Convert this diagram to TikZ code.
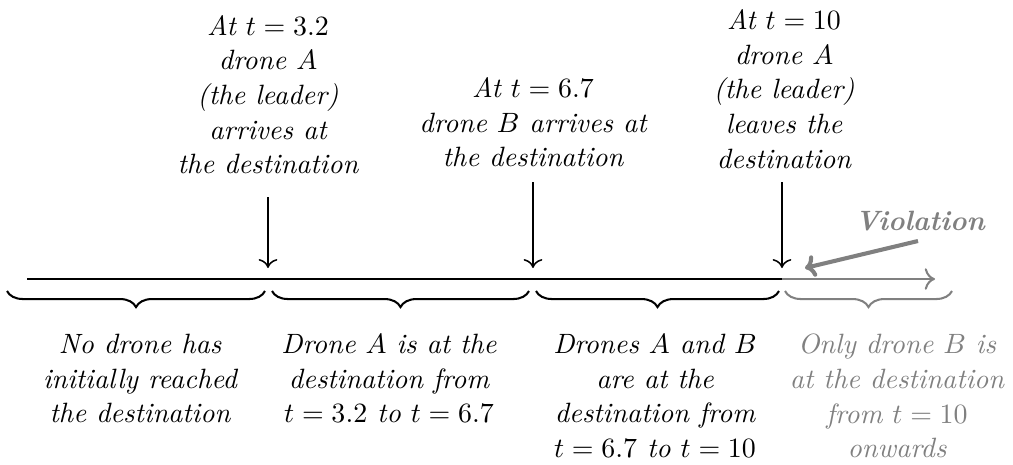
\documentclass[tikz,border=0pt]{standalone}
\usetikzlibrary{decorations.pathreplacing,arrows.meta}
\begin{document}
\begin{tikzpicture}[x=0.392pt,y=-0.392pt,
  lbl/.style={font=\fontsize{10.95pt}{13.6pt}\selectfont\itshape, align=center, inner sep=0pt, anchor=north},
  faded/.style={text=gray},
  brc/.style={decorate, decoration={brace,mirror,amplitude=6.3pt}, thick},
  tick/.style={semithick, -{To[scale=1.2]}},
  axis/.style={thick},
  viol/.style={font=\fontsize{10.95pt}{13.6pt}\selectfont\bfseries\itshape, text=gray, inner sep=0pt}
]
\useasboundingbox (0,0) rectangle (1013,464);

% top labels
\node[lbl] (n1) at (268,14.5) {At $t = 3.2$\\ drone $A$\\ (the leader)\\ arrives at\\ the destination};
\node[lbl] (n2) at (533,77) {At $t = 6.7$\\ drone $B$ arrives at\\ the destination};
\node[lbl] (n3) at (784,9) {At $t = 10$\\ drone $A$\\ (the leader)\\ leaves the\\ destination};

% timeline points
\coordinate (t0) at (27,279);
\coordinate (t3) at (782,279);
\coordinate (tend) at (935,279);

\coordinate (s1) at (268,197);
\coordinate (e1) at (268,268);
\coordinate (s2) at (533,182);
\coordinate (e2) at (533,268);
\coordinate (s3) at (782,182);
\coordinate (e3) at (782,268);

\draw[axis] (t0) -- (t3);
\draw[axis,gray,-{To[scale=1.2]}] (t3) -- (tend);

\draw[tick] (s1) -- (e1);
\draw[tick] (s2) -- (e2);
\draw[tick] (s3) -- (e3);

% braces
\coordinate (b1a) at (7,291);   \coordinate (b1b) at (265,291);
\coordinate (b2a) at (272,291); \coordinate (b2b) at (529,291);
\coordinate (b3a) at (536,291); \coordinate (b3b) at (779,291);
\coordinate (b4a) at (785,291); \coordinate (b4b) at (952,291);
\draw[brc] (b1a) -- (b1b);
\draw[brc] (b2a) -- (b2b);
\draw[brc] (b3a) -- (b3b);
\draw[brc,gray] (b4a) -- (b4b);

% bottom labels
\node[lbl] (d1) at (140,333.5) {No drone has\\ initially reached\\ the destination};
\node[lbl] (d2) at (389,333.5) {Drone $A$ is at the\\ destination from\\ $t = 3.2$ to $t = 6.7$};
\node[lbl] (d3) at (655,333.5) {Drones $A$ and $B$\\ are at the\\ destination from\\ $t = 6.7$ to $t = 10$};
\node[lbl,faded] (d4) at (897,333.5) {Only drone $B$ is\\ at the destination\\ from $t = 10$\\ onwards};

% violation
\node[viol] (v) at (920,221) {Violation};
\coordinate (vs) at (918,241);
\coordinate (vt) at (805,268);
\draw[gray,ultra thick,-{To[scale=0.8]}] (vs) -- (vt);
\end{tikzpicture}
\end{document}
